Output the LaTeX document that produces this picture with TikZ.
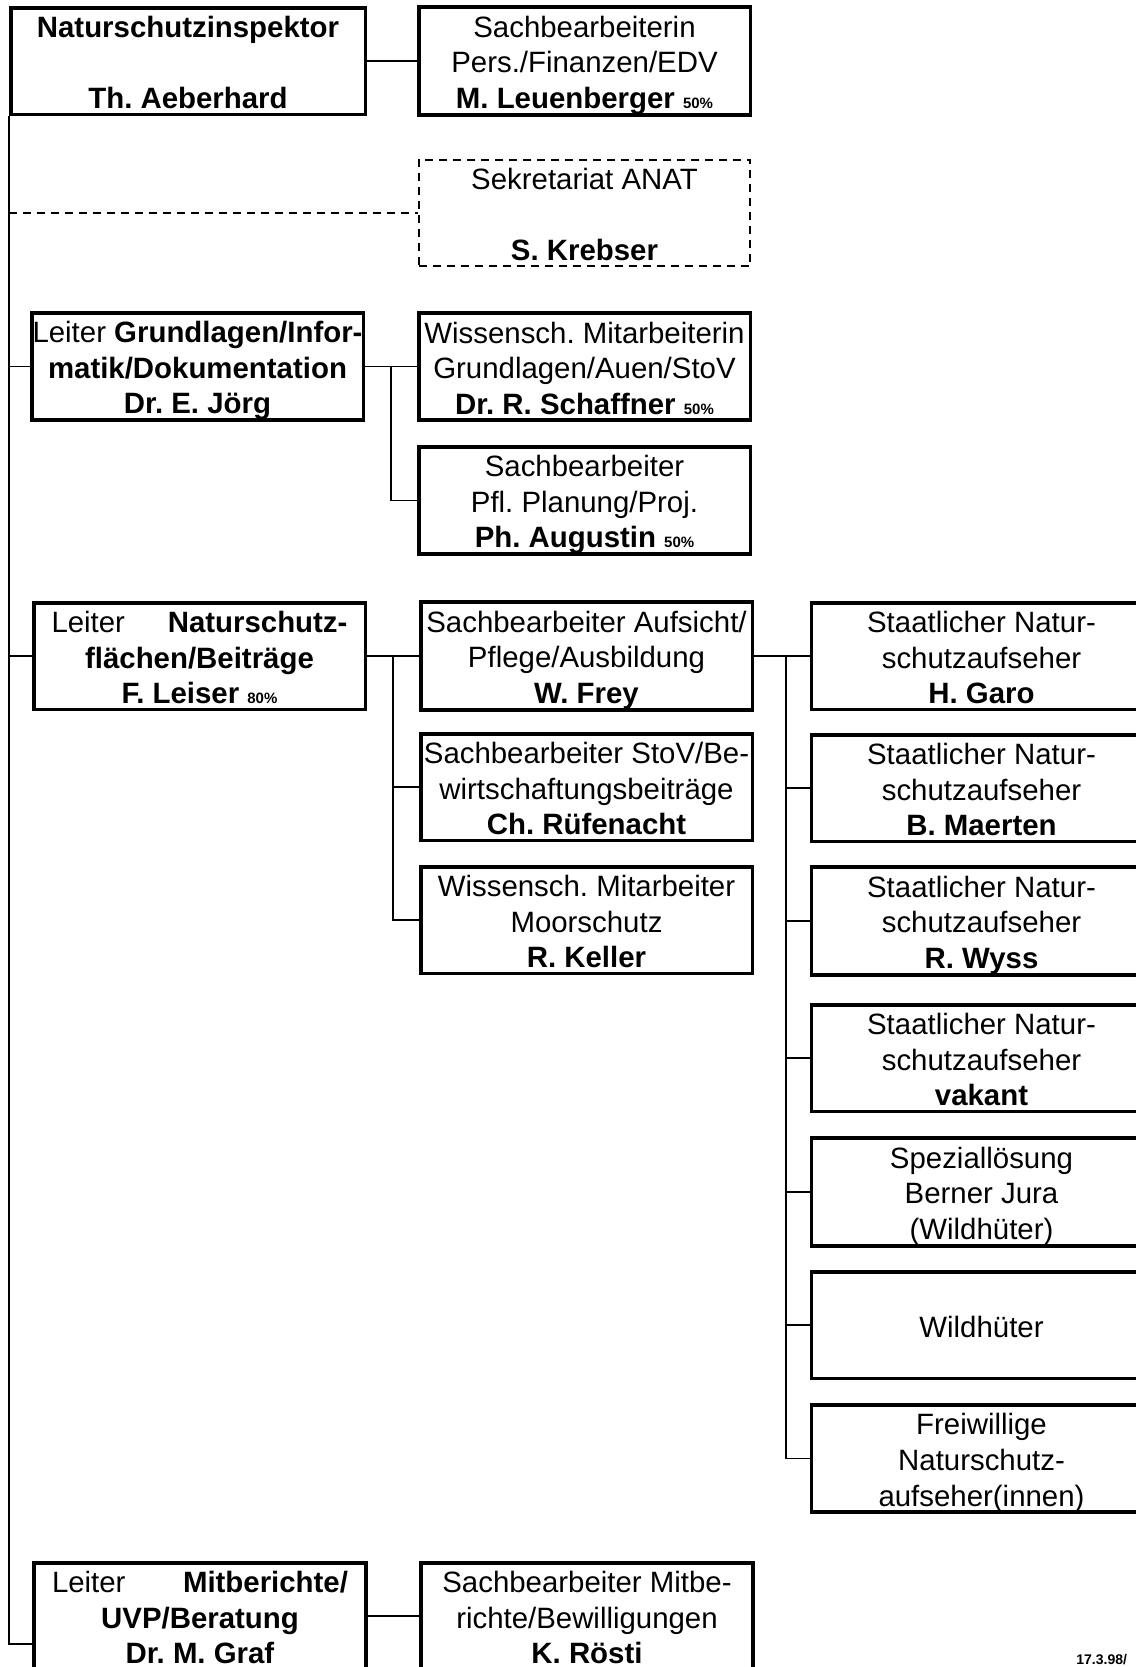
\documentclass[tikz,border=0pt]{standalone}
\usepackage{fontspec}
\setmainfont{Liberation Sans}
\usetikzlibrary{calc}
\newcommand{\anteil}[1]{{\fontsize{7.5}{8}\selectfont\bfseries #1}}
\newcommand{\eintrag}[1]{\rule{0pt}{15pt}#1\rule[-2.8pt]{0pt}{2.8pt}}

\begin{document}
\frenchspacing
\begin{tikzpicture}[x=0.5pt,y=-0.5pt,
    stelle/.style={draw, line width=1.9pt, minimum width=165.9pt, minimum height=53.4pt,
        inner sep=0pt, align=center, font=\fontsize{14.7}{17.8}\selectfont},
    vakanz/.style={stelle, line width=1pt, dash pattern=on 4pt off 3pt},
    link/.style={line width=0.9pt}]
    \useasboundingbox (0,0) rectangle (1136,1667);
    \clip (0,0) rectangle (1136,1667);

    \node[stelle, minimum width=177.4pt] (insp) at (188,61) {\eintrag{\textbf{Naturschutzinspektor}\\[17.8pt]\textbf{Th. Aeberhard}}};
    \node[stelle] (pers) at (584.5,61) {\eintrag{Sachbearbeiterin\\Pers./Finanzen/EDV\\\textbf{M. Leuenberger} \anteil{50\%}}};
    \node[vakanz] (sekr) at (584.5,213) {\eintrag{Sekretariat ANAT\\[17.8pt]\textbf{S. Krebser}}};

    \node[stelle] (grund) at (197.5,366.5) {\eintrag{Leiter \textbf{Grundlagen/Infor-}\\\textbf{matik/Dokumentation}\\\textbf{Dr. E. Jörg}}};
    \node[stelle] (auen) at (584.5,366.5) {\eintrag{Wissensch. Mitarbeiterin\\Grundlagen/Auen/StoV\\\textbf{Dr. R. Schaffner} \anteil{50\%}}};
    \node[stelle] (plan) at (584.5,500.5) {\eintrag{Sachbearbeiter\\Pfl. Planung/Proj.\\\textbf{Ph. Augustin} \anteil{50\%}}};

    \node[stelle] (flaech) at (199.5,656) {\eintrag{\makebox[148pt]{Leiter\hfill\textbf{Naturschutz-}}\\\textbf{flächen/Beiträge}\\\textbf{F. Leiser} \anteil{80\%}}};
    \node[stelle] (aufs) at (586.5,656) {\eintrag{Sachbearbeiter Aufsicht/\\Pflege/Ausbildung\\\textbf{W. Frey}}};
    \node[stelle] (bewi) at (586.5,787) {\eintrag{Sachbearbeiter StoV/Be-\\wirtschaftungsbeiträge\\\textbf{Ch. Rüfenacht}}};
    \node[stelle] (moor) at (586.5,920) {\eintrag{Wissensch. Mitarbeiter\\Moorschutz\\\textbf{R. Keller}}};

    \node[stelle, minimum width=170pt] (r1) at (981.5,656) {\eintrag{Staatlicher Natur-\\schutzaufseher\\\textbf{H. Garo}}};
    \node[stelle, minimum width=170pt] (r2) at (981.5,788) {\eintrag{Staatlicher Natur-\\schutzaufseher\\\textbf{B. Maerten}}};
    \node[stelle, minimum width=170pt] (r3) at (981.5,921) {\eintrag{Staatlicher Natur-\\schutzaufseher\\\textbf{R. Wyss}}};
    \node[stelle, minimum width=170pt] (r4) at (981.5,1058) {\eintrag{Staatlicher Natur-\\schutzaufseher\\\textbf{vakant}}};
    \node[stelle, minimum width=170pt] (r5) at (981.5,1192) {\eintrag{Speziallösung\\Berner Jura\\(Wildhüter)}};
    \node[stelle, minimum width=170pt] (r6) at (981.5,1325) {\eintrag{Wildhüter}};
    \node[stelle, minimum width=170pt] (r7) at (981.5,1458.5) {\eintrag{Freiwillige\\Naturschutz-\\aufseher(innen)}};

    \node[stelle] (uvp) at (200,1616) {\eintrag{\makebox[148pt]{Leiter\hfill\textbf{Mitberichte/}}\\\textbf{UVP/Beratung}\\\textbf{Dr. M. Graf}}};
    \node[stelle] (mitb) at (587,1616) {\eintrag{Sachbearbeiter Mitbe-\\richte/Bewilligungen\\\textbf{K. Rösti}}};

    \node[anchor=south west, inner sep=0pt, font=\fontsize{7}{7}\selectfont\bfseries] (datum) at (1076,1665) {17.3.98/};

    \coordinate (stammende) at (insp.south west |- 0,1644);
    \coordinate (gbus) at ($(grund.east)!0.5!(auen.west)$);
    \coordinate (fbus) at ($(flaech.east)!0.5!(aufs.west)$);
    \coordinate (abus) at ($(aufs.east)!0.57!(r1.west)$);

    \draw[link] (insp.south west) -- (stammende) -- (stammende -| uvp.west);
    \draw[link, dash pattern=on 4pt off 3pt] (insp.south west |- sekr.west) -- (sekr.west);
    \draw[link] (insp.south west |- grund.west) -- (grund.west);
    \draw[link] (insp.south west |- flaech.west) -- (flaech.west);

    \draw[link] (insp) -- (pers);
    \draw[link] (grund) -- (auen);
    \draw[link] (gbus) |- (plan.west);
    \draw[link] (flaech) -- (aufs);
    \draw[link] (fbus) |- (bewi.west);
    \draw[link] (fbus) |- (moor.west);
    \draw[link] (aufs) -- (r1);
    \foreach \i in {2,...,7}
        \draw[link] (abus) |- (r\i.west);
    \draw[link] (uvp) -- (mitb);
\end{tikzpicture}
\end{document}
